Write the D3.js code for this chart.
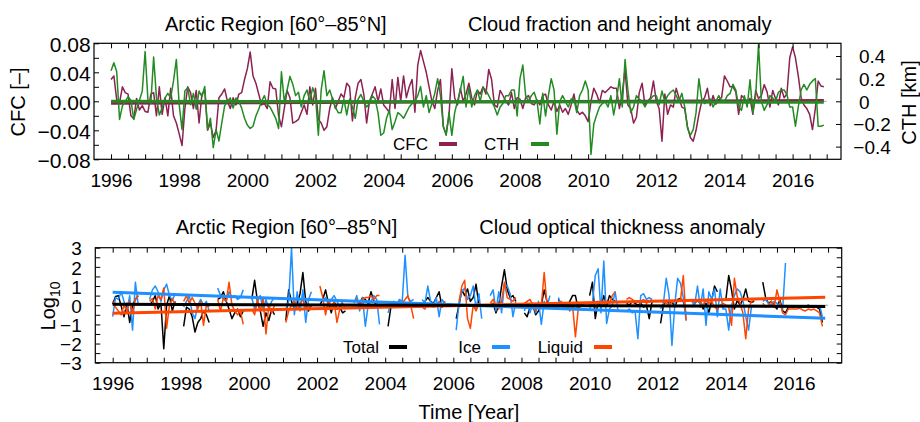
<!DOCTYPE html>
<html>
<head>
<meta charset="utf-8">
<title>Arctic Region cloud anomalies</title>
<script src="https://cdn.jsdelivr.net/npm/d3@7"></script>
<style>
  html, body { margin: 0; padding: 0; background: #fff; }
  svg { display: block; }
  text { font-family: "Liberation Sans", Arial, Helvetica, sans-serif; fill: #000; }
</style>
</head>
<body>
<svg id="chart" width="920" height="422"></svg>
<script>
// ---------------- data ----------------
// Monthly anomalies, January 1996 .. December 2016 (12 values per row, one row per year)
const startYear = 1996;

// cloud fraction anomaly [-]
const cfc = [
  0.030, 0.035, 0.002,-0.002, 0.020, 0.012, 0.010,-0.020,-0.024, 0.004,-0.012,-0.006,
 -0.014,-0.015, 0.010, 0.012,-0.020, 0.020,-0.018, 0.005,-0.020, 0.018,-0.020,-0.030,
 -0.045,-0.061,-0.010, 0.020, 0.012,-0.010, 0.015,-0.030, 0.010, 0.015,-0.040,-0.030,
 -0.050,-0.040, 0.005, 0.010, 0.017, 0.000,-0.010, 0.005,-0.005, 0.010, 0.012, 0.030,
  0.045, 0.068, 0.035, 0.025, 0.010,-0.005,-0.003,-0.010, 0.027, 0.018, 0.017,-0.020,
 -0.035,-0.010, 0.015, 0.005,-0.030,-0.028,-0.025,-0.015,-0.005,-0.018, 0.020,-0.005,
  0.018,-0.025,-0.030,-0.040,-0.035,-0.010, 0.005,-0.010, 0.000, 0.010, 0.005, 0.025,
  0.020,-0.027, 0.005, 0.025, 0.030, 0.010,-0.030, 0.000, 0.010, 0.020, 0.000, 0.017,
 -0.005,-0.010,-0.015, 0.030,-0.010, 0.033, 0.000, 0.035, 0.005, 0.020, 0.030,-0.015,
  0.050, 0.070, 0.055, 0.040, 0.020, 0.000,-0.010, 0.015, 0.030,-0.035,-0.045,-0.020,
  0.045, 0.005,-0.005, 0.018, 0.000, 0.010, 0.025, 0.005,-0.005, 0.015, 0.010, 0.020,
  0.010, 0.044, 0.030,-0.005,-0.008, 0.015, 0.008, 0.000,-0.005, 0.012,-0.010, 0.005,
  0.003,-0.010, 0.005, 0.008,-0.003,-0.005, 0.002,-0.005, 0.008, 0.010,-0.005,-0.012,
  0.000,-0.014,-0.005,-0.015,-0.010,-0.018,-0.005, 0.010,-0.012,-0.018,-0.015,-0.020,
 -0.028, 0.000, 0.018, 0.010,-0.002, 0.015, 0.012, 0.016, 0.020, 0.018, 0.018,-0.010,
  0.010, 0.044,-0.005,-0.010,-0.030,-0.022, 0.012, 0.025,-0.005, 0.000, 0.005, 0.028,
  0.000,-0.010,-0.055, 0.010,-0.018,-0.005,-0.008, 0.018, 0.005,-0.008,-0.010,-0.035,
 -0.050,-0.055,-0.040,-0.018, 0.000, 0.005, 0.018,-0.006, 0.008,-0.004, 0.002, 0.005,
  0.035, 0.028, 0.020, 0.020, 0.013,-0.018, 0.008, 0.004,-0.004, 0.004,-0.018, 0.015,
  0.004, 0.008, 0.023, 0.013,-0.008, 0.015, 0.004,-0.005, 0.018, 0.005, 0.010, 0.060,
  0.075, 0.060, 0.035, 0.005,-0.005,-0.010,-0.018,-0.039,-0.010, 0.028, 0.021, 0.020
];

// cloud top height anomaly [km]
const cth = [
  0.27, 0.34, 0.26,-0.16,-0.04, 0.00, 0.04, 0.01,-0.16,-0.07, 0.01, 0.09,
  0.44, 0.01,-0.02, 0.39, 0.03,-0.12,-0.06, 0.03, 0.07, 0.03, 0.18, 0.37,
 -0.03,-0.25, 0.09, 0.12,-0.03, 0.07,-0.07, 0.09, 0.04, 0.13,-0.25,-0.15,
 -0.41,-0.25,-0.35,-0.19,-0.04, 0.00, 0.03,-0.06, 0.03, 0.00,-0.06,-0.15,
 -0.21,-0.24,-0.22,-0.13,-0.07, 0.00, 0.05,-0.03,-0.05,-0.10,-0.15,-0.24,
  0.26, 0.00, 0.10, 0.22, 0.15, 0.05, 0.08,-0.05, 0.05, 0.10, 0.00, 0.12,
  0.05,-0.30, 0.10, 0.27, 0.05, 0.10, 0.02,-0.05,-0.10,-0.10, 0.02,-0.12,
  0.02,-0.05,-0.15, 0.02, 0.06, 0.00,-0.05,-0.02, 0.05, 0.02,-0.10,-0.30,
 -0.28,-0.15,-0.08,-0.25,-0.18,-0.10,-0.12,-0.15,-0.10,-0.05,-0.02, 0.00,
  0.05, 0.13,-0.05, 0.05,-0.10,-0.02, 0.07, 0.20, 0.05,-0.22,-0.30,-0.10,
 -0.30,-0.10, 0.00, 0.10, 0.22,-0.05, 0.12,-0.05, 0.05, 0.10, 0.00, 0.12,
  0.10, 0.05, 0.00,-0.05,-0.12,-0.05,-0.02, 0.05, 0.05, 0.10, 0.10,-0.13,
  0.20, 0.32, 0.05, 0.00, 0.05, 0.08, 0.00,-0.20, 0.07,-0.13, 0.05, 0.20,
  0.10,-0.29, 0.00, 0.05, 0.00,-0.05, 0.02, 0.02,-0.10, 0.05, 0.10, 0.18,
  0.10,-0.47,-0.20,-0.12,-0.05,-0.02, 0.00,-0.05, 0.05,-0.12, 0.02, 0.20,
 -0.05, 0.37, 0.10,-0.10,-0.05, 0.05, 0.02, 0.00,-0.05, 0.00, 0.02, 0.05,
  0.05,-0.03, 0.09, 0.00, 0.05, 0.08, 0.10, 0.05, 0.00, 0.07,-0.05,-0.24,
 -0.30,-0.25,-0.10, 0.20, 0.02,-0.02, 0.00, 0.02,-0.05, 0.00, 0.05, 0.00,
  0.00, 0.05, 0.07, 0.15, 0.10,-0.05,-0.08, 0.05,-0.05, 0.19,-0.10, 0.05,
  0.50, 0.00,-0.08,-0.03, 0.05, 0.03, 0.00, 0.08, 0.10, 0.10, 0.06,-0.05,
 -0.05,-0.22,-0.05, 0.10, 0.15, 0.10, 0.15, 0.18, 0.20,-0.22,-0.22,-0.21
];

// linear trends, value at first and last month
const cfcTrend = [-0.0028, 0.0010];
const cthTrend = [0.000, -0.009];

// cloud optical thickness anomaly, log10 units (null = no retrieval)
const total = [
  0.05, 0.45, 0.50,-0.05,-0.60, 0.10,-0.90, 0.00, 0.30, 0.50, null, null,
  null, 0.00, 0.20, 0.50,-0.20, 0.10,-2.27, 0.00, 0.50,-0.30, 0.20, null,
  null,-1.10,-0.10,-0.20,-0.60,-1.40,-0.90,-0.70,-0.30,-0.50,-0.90, null,
  null, 0.30, 0.40, 0.70, 0.20,-0.20,-0.70,-0.40,-0.20,-0.60,-0.30, null,
  null, 0.30, 1.30, 0.20,-0.30,-1.10,-0.40,-0.80,-0.20,-0.50, null, null,
  null,-0.80, 0.80, 0.20,-0.20, 0.10, 0.60, 1.70, 0.20,-0.30, 0.00, null,
  null, 0.00, 0.30, 0.80, 0.10,-0.40, 0.20,-0.20,-0.10,-0.40,-0.30, null,
  null, null, 0.30, 0.10, 0.40, 0.30, 0.10, 0.70, 0.20, 0.00, null, null,
  null,-1.10,-0.10, 0.00, 0.10,-0.05, 0.10, 0.05, 0.00,-0.10, 0.10, null,
  null, 0.00, 0.20, 0.40, 0.20, 0.10, 0.40, 0.70,-0.10, 0.20, null, null,
  null,-0.70, 0.00, 0.80, 0.50, 0.85, 0.20, 0.40, 1.10, 0.00, null, null,
  null, 0.00, 0.10,-0.40, 0.00, 1.00, 1.85, 0.80, 0.40, 0.50, 0.20, null,
  null,-0.40,-0.60,-0.10, 0.00,-0.50,-0.30, 0.00, 0.80, 0.20, 0.05, null,
  null, 0.30, 0.00, 0.10,-0.10, 0.20, 0.50, 0.50,-0.20, 0.00, 0.10, null,
  0.50, 1.20,-0.70, 0.20,-0.10, 0.50, 0.00, 0.50, 0.30, 0.20, null, null,
  null, 0.10, 0.00, 0.20, 0.10, 0.00, 0.10,-0.10, 0.00,-0.70, 0.20, null,
  null,-0.95, 0.00, 0.25, 0.10, 0.20,-0.10, 0.30, 0.35, 0.20,-0.50, null,
 -0.10, 0.10, 0.25, 0.10,-0.20, 0.10,-0.40, 0.25, 1.00, 0.70, null, null,
  0.30, 1.55, 0.80,-0.20, 0.25, 0.00, 0.30, 0.85, 0.20, 0.15, 0.20, null,
  null, 1.20, 0.40, 0.10, 0.20, 0.00,-0.20, 0.30,-0.30,-0.40,-0.10,-0.10,
 -0.10,-0.05,-0.10,-0.05,-0.10, 0.00,-0.10,-0.05,-0.10,-0.20,-0.90, null
];
const ice = [
 -0.60, 0.40, 0.30, 0.70, 0.20,-0.30, 0.50,-1.30, 1.20, 0.00, null, null,
  null, 0.30, 0.80, 1.00, 0.70, 0.20, 0.80, 1.10, 0.50, 0.25, 0.60, null,
  null,-0.10, 0.20, 0.50,-0.40,-0.70, 0.00, 0.30, 0.00, 0.20,-0.30, null,
  null, 0.90, 0.50, 0.30, 0.20, 0.70, 0.40, 0.50, 0.30, 0.40, 0.80, null,
  null, 0.40,-0.20, 0.20, 0.50,-0.30, 0.30,-0.20, 0.20, 0.40, null, null,
  null,-0.20, 0.20, 3.00,-0.50, 0.70,-0.30, 0.80,-0.90, 0.30, 0.70, null,
  null, null, 0.20, 0.40, 0.00, 0.30, 0.50, 0.20,-0.10, 0.20, null, null,
  null, 0.10, 0.50,-0.30, 0.40,-1.10, 0.00, 0.20, 0.50, 0.30,-1.00, null,
  null,-0.40, 0.10, 0.20, 0.00, 0.30, 0.20, 2.60, 0.40, 0.20, 0.30, null,
  null, 0.30, 0.10, 1.00, 0.20, 0.00, 0.40,-0.60, 0.30, 0.10, null, null,
  null,-1.30, 0.10, 0.70, 0.90, 0.30, 0.50, 1.00,-0.20, 0.60,-0.70, null,
  null, 0.50, 0.80,-0.30, 0.70,-0.40, 1.10, 1.00, 0.60,-0.60, 0.20, null,
  null,-0.30, 0.10,-0.40, 0.10,-0.40, 0.20,-1.00, 0.20,-0.10, 0.50, null,
  null, 0.40, 0.00,-0.20, 0.10,-0.10, 0.00,-0.20, 0.00, 0.10, null, null,
 -0.20, 0.10, 1.55, 1.90,-0.40, 2.30,-0.95,-0.20, 0.00, 0.70,-0.30, null,
  null,-0.30,-0.20,-0.40,-0.30,-1.75, 0.50, 0.60, 0.30, 0.40, 0.30, null,
  null,-0.20, 0.10, 1.40, 0.50,-2.10, 0.00, 1.40, 1.15, 0.40,-0.80, null,
  0.20, 0.00, 1.00,-0.10, 0.85,-1.05, 0.70, 0.30, 0.85,-0.60, 0.85,-0.20,
 -0.20,-1.30, 0.00, 0.50, 0.85, 0.70, 0.25,-0.60,-1.30,-0.10, 0.00, null,
  null, 0.20, 0.30, 0.10, 0.00, 0.20, 0.10, 0.00,-0.20, 2.20, null, null,
  null, null, null, null, null, null, null, null, null, 0.00,-0.60, null
];
const liquid = [
  0.20,-0.10,-0.30,-0.50, 0.00,-0.30, 0.20,-0.40, 0.30, 0.50, null, null,
  null, 0.20, 0.35,-0.20, 0.50, 0.30, 0.90,-1.20, 0.00, 0.35, 0.00, null,
  null, 0.20, 0.50, 0.10, 0.40, 0.10,-0.20, 0.20,-1.05, 0.00,-0.10, null,
  null, 0.30,-0.30, 0.40, 0.20, 1.20, 0.00,-0.30,-0.50,-0.30,-1.00, null,
  null,-0.20,-0.50, 0.30,-0.30, 0.40,-1.50, 0.00,-0.40, 0.00, null, null,
  null,-0.90,-0.30, 0.00, 0.20,-0.20, 0.10, 0.30,-0.20, 0.00,-0.10, null,
  null, 1.00, 0.40,-0.50, 0.30,-0.20, 0.20,-0.90,-0.20, 0.10,-0.20, null,
  null, 0.20, 0.30, 0.00, 0.30, 0.40, 0.40, 0.50, 0.30, 0.50, 0.50, null,
  null, null, 0.10, 0.00,-0.10, 0.20, 0.10, 0.30, 0.50, 0.00,-0.70, null,
  null,-0.10,-0.20, 0.10, 0.00,-0.10, 0.00, 0.20,-0.10, 0.20, null, null,
  null, null, 0.20, 1.00, 1.30,-0.70,-1.20, 0.00,-0.30, 0.10, null, null,
  null, 0.10, 0.30, 0.00,-0.20, 0.20, 1.20, 0.40, 0.30, 0.20, 0.40, null,
  null, 0.10, 0.20, 0.30, 0.00,-0.30, 0.10, 0.00, 1.70, 0.00,-0.20, null,
  null,-0.20, 0.20, 0.00, 0.10,-0.30, 0.00,-1.65,-0.20, 0.10, 0.00, null,
  0.00, 0.10,-0.10, 0.15, 0.20, 0.00, 0.20, 0.10, 0.50, 0.70, null, null,
  null, 0.30, 0.40, 0.30, 0.20, 0.20, 0.20, 0.30, 0.10, 0.20, 0.30, null,
  null, 0.25, 0.15, 0.10, 0.00, 0.15, 0.25, 0.20, 0.25, 1.55,-0.80, null,
  0.15, 0.20, 0.25, 0.15, 0.00, 0.25, 0.10, 0.20,-0.10,-0.20, 0.00, 0.10,
  0.00,-0.10,-1.05, 1.40, 0.45, 0.10,-0.40,-1.75,-0.20, 0.20, 0.25, null,
  null, 0.10,-0.10, 0.00, 0.20,-0.10, 0.80, 0.20,-0.40,-0.50,-0.20,-0.20,
 -0.20,-0.20,-0.15,-0.25,-0.30,-0.20,-0.25,-0.20,-0.30,-0.40,-1.10, null
];
const totalTrend  = [0.05, -0.07];
const iceTrend    = [0.67, -0.68];
const liquidTrend = [-0.42, 0.41];

// axis ticks and labels
const yearLabels   = [1996, 1998, 2000, 2002, 2004, 2006, 2008, 2010, 2012, 2014, 2016];
const cfcTicks     = [-0.08, -0.06, -0.04, -0.02, 0, 0.02, 0.04, 0.06, 0.08];
const cfcLabels    = { "-0.08": "\u22120.08", "-0.04": "\u22120.04", "0": "0.00", "0.04": "0.04", "0.08": "0.08" };
const cthTicks     = [-0.4, -0.2, 0, 0.2, 0.4];
const cthLabels    = ["\u22120.4", "\u22120.2", "0", "0.2", "0.4"];
const logTicks     = [-3, -2.5, -2, -1.5, -1, -0.5, 0, 0.5, 1, 1.5, 2, 2.5, 3];
const logLabels    = { "-3": "\u22123", "-2": "\u22122", "-1": "\u22121", "0": "0", "1": "1", "2": "2", "3": "3" };

// ---------------- drawing ----------------
const svg = d3.select("#chart");
const monthTime = i => startYear + i / 12;
const colors = { cfc: "#8b2252", cth: "#228b22", total: "#000000", ice: "#1e90ff", liquid: "#ff4500" };
const halfYears = d3.range(1996, 2017.001, 0.5);
const TICK = 5, TICK_FONT = 19;

function series(values) {
  return values.map((v, i) => ({ t: monthTime(i), v }));
}

function addClip(id, box) {
  svg.append("clipPath").attr("id", id)
    .append("rect").attr("x", box.l).attr("y", box.t)
    .attr("width", box.r - box.l).attr("height", box.b - box.t);
}

function drawLine(g, data, x, y, color, width) {
  const line = d3.line().defined(d => d.v !== null).x(d => x(d.t)).y(d => y(d.v));
  g.append("path").datum(data).attr("d", line)
    .attr("fill", "none").attr("stroke", color).attr("stroke-width", width)
    .attr("stroke-linejoin", "round").attr("stroke-linecap", "butt");
}

function drawTrend(g, trend, n, x, y, color) {
  drawLine(g, [{ t: monthTime(0), v: trend[0] }, { t: monthTime(n - 1), v: trend[1] }], x, y, color, 3);
}

function styleAxis(a, size) {
  a.select(".domain").remove();
  a.selectAll(".tick line").attr("stroke", "#000").attr("stroke-width", 1);
  a.selectAll("text").style("font-size", (size || TICK_FONT) + "px").attr("fill", "#000");
}

function xAxes(x, box, labelBaseline) {
  svg.append("g").attr("transform", `translate(0,${box.b})`)
    .call(d3.axisBottom(x).tickValues(halfYears).tickSizeInner(-TICK).tickSizeOuter(0)
      .tickFormat(d => yearLabels.includes(d) ? String(d) : ""))
    .call(a => styleAxis(a))
    .call(a => a.selectAll("text").attr("y", labelBaseline - box.b).attr("dy", null));
  svg.append("g").attr("transform", `translate(0,${box.t})`)
    .call(d3.axisTop(x).tickValues(halfYears).tickSizeInner(-TICK).tickSizeOuter(0).tickFormat(""))
    .call(a => styleAxis(a));
}

function frame(box) {
  svg.append("rect").attr("x", box.l).attr("y", box.t)
    .attr("width", box.r - box.l).attr("height", box.b - box.t)
    .attr("fill", "none").attr("stroke", "#000").attr("stroke-width", 1.2);
}

function text(x, y, s, size, anchor) {
  return svg.append("text").attr("x", x).attr("y", y).attr("text-anchor", anchor || "start")
    .style("font-size", size + "px").text(s);
}

function legendEntry(label, textRight, x0, x1, y, color) {
  text(textRight, y + 6, label, 17, "end");
  svg.append("line").attr("x1", x0).attr("x2", x1).attr("y1", y).attr("y2", y)
    .attr("stroke", color).attr("stroke-width", 4);
}

// ---- upper panel: cloud fraction and cloud top height ----
const boxA = { l: 94, r: 841, t: 43.3, b: 159.3 };
const xA = d3.scaleLinear().domain([1995.5, 2017.42]).range([boxA.l, boxA.r]);
const yCfc = d3.scaleLinear().domain([-0.08, 0.08]).range([boxA.b, boxA.t]);
const yCth = d3.scaleLinear().domain([-0.512, 0.512]).range([boxA.b, boxA.t]);

addClip("clipA", boxA);
const gA = svg.append("g").attr("clip-path", "url(#clipA)");
gA.append("line").attr("x1", xA(1996)).attr("x2", xA(2017)).attr("y1", yCfc(0)).attr("y2", yCfc(0))
  .attr("stroke", "#a0a0a0").attr("stroke-width", 1);
drawLine(gA, series(cfc), xA, yCfc, colors.cfc, 1.5);
drawTrend(gA, cfcTrend, cfc.length, xA, yCfc, colors.cfc);
drawLine(gA, series(cth), xA, yCth, colors.cth, 1.5);
drawTrend(gA, cthTrend, cth.length, xA, yCth, colors.cth);

xAxes(xA, boxA, 187);
svg.append("g").attr("transform", `translate(${boxA.l},0)`)
  .call(d3.axisLeft(yCfc).tickValues(cfcTicks).tickSizeInner(-TICK).tickSizeOuter(0)
    .tickFormat(d => cfcLabels[String(d)] || ""))
  .call(a => styleAxis(a, 21))
  .call(a => a.selectAll("text").attr("x", -3.3).attr("dy", "0.38em"));
svg.append("g").attr("transform", `translate(${boxA.r},0)`)
  .call(d3.axisRight(yCth).tickValues(cthTicks).tickSizeInner(-TICK).tickSizeOuter(0)
    .tickFormat((d, i) => cthLabels[i]))
  .call(a => styleAxis(a))
  .call(a => a.selectAll("text").attr("x", d => d < 0 ? 12.3 : 18).attr("dy", "0.36em"));
frame(boxA);

text(165, 30.5, "Arctic Region [60°\u201385°N]", 20);
text(468, 30.5, "Cloud fraction and height anomaly", 20);
text(0, 0, "CFC [\u2013]", 20, "middle").attr("transform", "translate(25,102) rotate(-90)");
text(0, 0, "CTH [km]", 20, "middle").attr("transform", "translate(916,102.5) rotate(-90)");
legendEntry("CFC", 428, 439, 457, 144, colors.cfc);
legendEntry("CTH", 519, 531, 549, 144, colors.cth);

// ---- lower panel: cloud optical thickness ----
const boxB = { l: 95.3, r: 841.7, t: 247.7, b: 362.7 };
const xB = d3.scaleLinear().domain([1995.49, 2017.4]).range([boxB.l, boxB.r]);
const yB = d3.scaleLinear().domain([-3, 3]).range([boxB.b, boxB.t]);

addClip("clipB", boxB);
const gB = svg.append("g").attr("clip-path", "url(#clipB)");
gB.append("line").attr("x1", xB(1996)).attr("x2", xB(2017)).attr("y1", yB(0)).attr("y2", yB(0))
  .attr("stroke", "#a0a0a0").attr("stroke-width", 1);
drawLine(gB, series(total), xB, yB, colors.total, 1.5);
drawLine(gB, series(ice), xB, yB, colors.ice, 1.5);
drawLine(gB, series(liquid), xB, yB, colors.liquid, 1.5);
drawTrend(gB, iceTrend, ice.length, xB, yB, colors.ice);
drawTrend(gB, liquidTrend, liquid.length, xB, yB, colors.liquid);
drawTrend(gB, totalTrend, total.length, xB, yB, colors.total);

xAxes(xB, boxB, 390);
svg.append("g").attr("transform", `translate(${boxB.l},0)`)
  .call(d3.axisLeft(yB).tickValues(logTicks).tickSizeInner(-TICK).tickSizeOuter(0)
    .tickFormat(d => logLabels[String(d)] || ""))
  .call(a => styleAxis(a))
  .call(a => a.selectAll("text").attr("x", -13.6).attr("dy", "0.38em"));
svg.append("g").attr("transform", `translate(${boxB.r},0)`)
  .call(d3.axisRight(yB).tickValues(logTicks).tickSizeInner(-TICK).tickSizeOuter(0).tickFormat(""))
  .call(a => styleAxis(a));
frame(boxB);

text(175.7, 234, "Arctic Region [60°\u201385°N]", 20);
text(479.3, 234, "Cloud optical thickness anomaly", 20);
const logLabel = text(0, 0, "Log", 20, "middle").attr("transform", "translate(55,306) rotate(-90)");
logLabel.append("tspan").attr("dy", 5).style("font-size", "14px").text("10");
text(469, 419, "Time [Year]", 20, "middle");
legendEntry("Total", 379, 389, 407, 347, colors.total);
legendEntry("Ice", 481, 492, 510, 347, colors.ice);
legendEntry("Liquid", 583, 594, 612, 347, colors.liquid);
</script>
</body>
</html>
